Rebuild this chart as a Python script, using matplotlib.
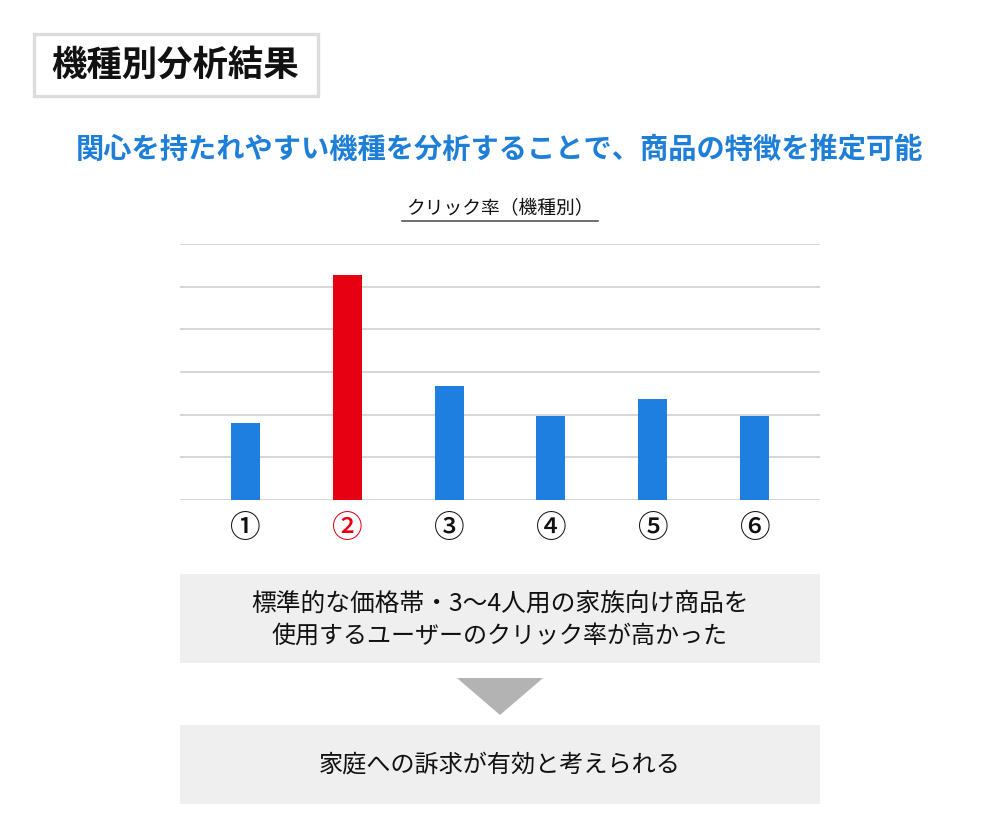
import matplotlib
matplotlib.use("Agg")
import matplotlib.pyplot as plt
from matplotlib.patches import Rectangle, Polygon
from matplotlib.lines import Line2D

plt.rcParams['font.family'] = ['Noto Sans CJK JP', 'DejaVu Sans']

# ---- data ----
categories = ['①', '②', '③', '④', '⑤', '⑥']
values = [1.80, 5.27, 2.67, 1.98, 2.36, 1.98]
highlight_index = 1
title_text = '機種別分析結果'
subtitle_text = '関心を持たれやすい機種を分析することで、商品の特徴を推定可能'
chart_title = 'クリック率（機種別）'
finding_lines = ['標準的な価格帯・3〜4人用の家族向け商品を', '使用するユーザーのクリック率が高かった']
conclusion_text = '家庭への訴求が有効と考えられる'

BLUE = '#1E7FE0'
RED = '#E60012'
W, H = 1000, 840

fig = plt.figure(figsize=(W / 100, H / 100), dpi=100)
fig.patch.set_facecolor('white')

def fx(x):
    return x / W

def fy(y):
    return 1 - y / H

# title box
fig.add_artist(Rectangle((fx(34), fy(96)), (318 - 34) / W, (96 - 34) / H,
                         transform=fig.transFigure, facecolor='white',
                         edgecolor='#dcdcdc', linewidth=2.4))
fig.text(fx(175), fy(65), title_text, fontsize=25.5, fontweight='bold',
         ha='center', va='center', color='#111111')

# subtitle
fig.text(fx(500), fy(150), subtitle_text, fontsize=20.3, fontweight='bold',
         ha='center', va='center', color='#1E7FD8')

# chart title with underline
fig.text(fx(500), fy(209), chart_title, fontsize=13.5, ha='center', va='center',
         color='#111111')
fig.add_artist(Line2D([fx(402), fx(598)], [fy(221), fy(221)],
                      transform=fig.transFigure, color='#555555', linewidth=1.2))

# bar chart
ax = fig.add_axes([fx(180), fy(500), 640 / W, 256 / H])
x = list(range(len(categories)))
colors = [RED if i == highlight_index else BLUE for i in x]
ax.bar(x, values, width=0.285, color=colors, zorder=3)
ax.set_xlim(-0.64, len(categories) - 1 + 0.64)
ax.set_ylim(0, 6)
ax.set_yticks(range(0, 7))
ax.yaxis.grid(True, color='#d0d0d0', linewidth=1.2, zorder=0)
ax.set_axisbelow(True)
ax.tick_params(axis='y', left=False, labelleft=False)
ax.tick_params(axis='x', bottom=False, pad=6)
for s in ax.spines.values():
    s.set_visible(False)
ax.set_xticks(x)
ax.set_xticklabels(categories, fontsize=22, fontweight='medium')
for i, lbl in enumerate(ax.get_xticklabels()):
    lbl.set_color(RED if i == highlight_index else '#111111')
ax.set_facecolor('white')

# finding box
fig.add_artist(Rectangle((fx(180), fy(663)), 640 / W, (663 - 574) / H,
                         transform=fig.transFigure, facecolor='#efefef',
                         edgecolor='none'))
fig.text(fx(500), fy(604), finding_lines[0], fontsize=17.8, ha='center', va='center',
         color='#111111')
fig.text(fx(500), fy(636), finding_lines[1], fontsize=17.3, ha='center', va='center',
         color='#111111')

# arrow triangle
fig.add_artist(Polygon([(fx(457), fy(678)), (fx(543), fy(678)), (fx(500), fy(715))],
                       closed=True, transform=fig.transFigure,
                       facecolor='#b3b3b3', edgecolor='none'))

# conclusion box
fig.add_artist(Rectangle((fx(180), fy(804)), 640 / W, (804 - 725) / H,
                         transform=fig.transFigure, facecolor='#efefef',
                         edgecolor='none'))
fig.text(fx(500), fy(765), conclusion_text, fontsize=17.4, ha='center', va='center',
         color='#111111')

fig.savefig('out.png', dpi=100, facecolor='white')
